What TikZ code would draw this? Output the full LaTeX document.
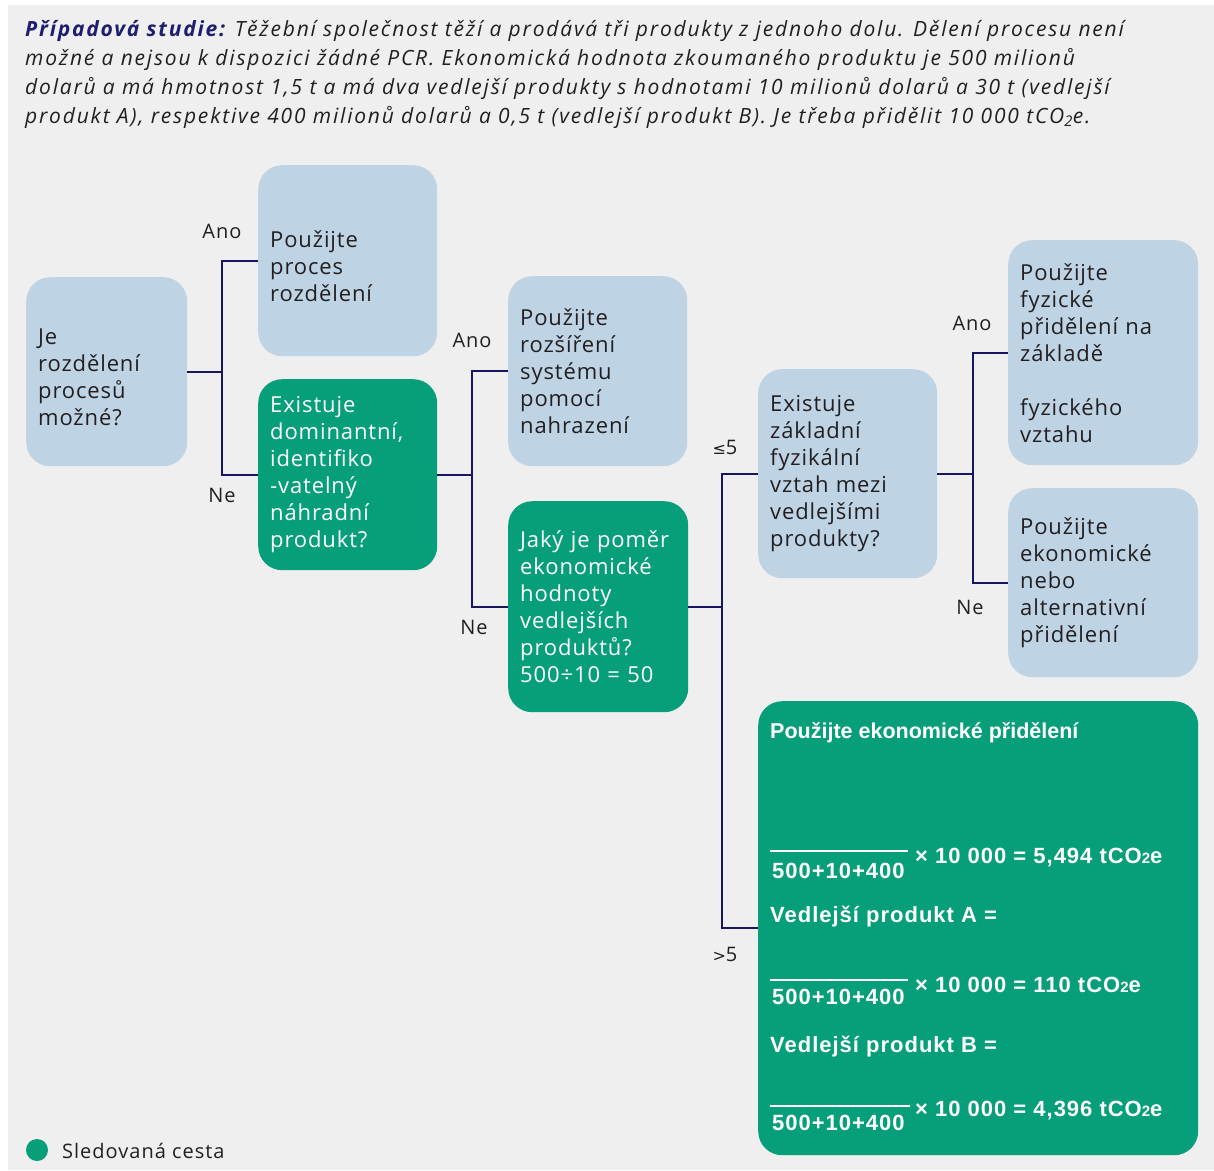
\documentclass[tikz,border=0pt]{standalone}
\usepackage{fontspec}
\setmainfont{Open Sans}
\newfontfamily\hdrfont[LetterSpace=8.6]{Open Sans}
\newfontfamily\boxfont[LetterSpace=4]{Open Sans}
\newfontfamily\lblfont[LetterSpace=5]{Open Sans}
\newfontfamily\arialb{Liberation Sans}
\newfontfamily\arialbs[LetterSpace=4.5]{Liberation Sans}
\newfontfamily\symfont{DejaVu Sans}
\usetikzlibrary{calc}
\definecolor{grn}{RGB}{7,158,122}
\definecolor{lblue}{RGB}{190,211,228}
\definecolor{navy}{RGB}{24,22,96}
\definecolor{bgray}{RGB}{239,239,239}
\definecolor{txt}{RGB}{35,31,32}
\definecolor{hdrnavy}{RGB}{30,30,110}
\tikzset{
  basebox/.style={rounded corners=24pt, inner xsep=12pt, inner ysep=0pt, align=left, anchor=north west,
    font=\boxfont\fontsize{22}{27}\selectfont},
  bluebox/.style={basebox, fill=lblue, text=txt},
  greenbox/.style={basebox, fill=grn, text=white},
  conn/.style={draw=navy, line width=1.9pt},
  lbl/.style={text=txt, font=\lblfont\fontsize{20}{24}\selectfont, inner sep=0pt},
  bigtxt/.style={text=white, font=\arialbs\bfseries\fontsize{22}{24}\selectfont, inner sep=0pt, anchor=west},
  barline/.style={draw=white, line width=1.2pt}
}
\begin{document}
\begin{tikzpicture}[x=1pt,y=-1pt]
\useasboundingbox (0,0) rectangle (1214,1170);
\fill[white] (0,0) rectangle (1214,1170);
\fill[bgray] (8,5) rectangle (1214,1170);

% header
\node[anchor=north west, inner sep=0pt, align=left, text=txt,
  font=\hdrfont\itshape\fontsize{21}{29}\selectfont] (hdr) at (25,20)
  {{\color{hdrnavy}\bfseries Případová studie:} Těžební společnost těží a prodává tři produkty z jednoho dolu. Dělení procesu není\\
   možné a nejsou k dispozici žádné PCR. Ekonomická hodnota zkoumaného produktu je 500 milionů\\
   dolarů a má hmotnost 1,5 t a má dva vedlejší produkty s hodnotami 10 milionů dolarů a 30 t (vedlejší\\
   produkt A), respektive 400 milionů dolarů a 0,5 t (vedlejší produkt B). Je třeba přidělit 10 000 tCO\textsubscript{2}e.};

% boxes
\node[bluebox, minimum width=161pt, minimum height=189pt, text width=137pt] (b1) at (26,277)
  {\\[0pt]Je\\rozdělení\\procesů\\možné?};
\node[bluebox, minimum width=179pt, minimum height=191pt, text width=155pt] (b2) at (258,165)
  {\\[0pt]Použijte\\proces\\rozdělení};
\node[greenbox, minimum width=179pt, minimum height=191pt, text width=155pt] (b3) at (258,379)
  {Existuje\\dominantní,\\identifiko\\-vatelný\\náhradní\\produkt?};
\node[bluebox, minimum width=179pt, minimum height=190pt, text width=155pt] (b4) at (508,276)
  {Použijte\\rozšíření\\systému\\pomocí\\nahrazení};
\node[greenbox, minimum width=180pt, minimum height=211pt, text width=156pt] (b5) at (508,501)
  {Jaký je poměr\\ekonomické\\hodnoty\\vedlejších\\produktů?\\500÷10 = 50};
\node[bluebox, minimum width=179pt, minimum height=209pt, text width=155pt] (b6) at (758,369)
  {Existuje\\základní\\fyzikální\\vztah mezi\\vedlejšími\\produkty?};
\node[bluebox, minimum width=190pt, minimum height=225pt, text width=166pt] (b7) at (1008,240)
  {Použijte\\fyzické\\přidělení na\\základě\\[27pt]fyzického\\vztahu};
\node[bluebox, minimum width=190pt, minimum height=189pt, text width=166pt] (b8) at (1008,488)
  {Použijte\\ekonomické\\nebo\\alternativní\\přidělení};
\node[greenbox, minimum width=440pt, minimum height=454pt] (b9) at (758,701) {};

% big box contents
\node[bigtxt, font=\arialb\bfseries\fontsize{21.5}{24}\selectfont] (t1) at (770,733) {Použijte ekonomické přidělení};
\node[bigtxt] (d1) at (772,871) {500+10+400};
\draw[barline] (770,851) -- (908,851);
\node[bigtxt] (r1) at (915,858) {× 10 000 = 5,494 tCO{\fontsize{15}{15}\selectfont 2}e};
\node[bigtxt] (t2) at (770,917) {Vedlejší produkt A =};
\node[bigtxt] (d2) at (772,997) {500+10+400};
\draw[barline] (770,980) -- (908,980);
\node[bigtxt] (r2) at (915,985) {× 10 000 = 110 tCO{\fontsize{15}{15}\selectfont 2}e};
\node[bigtxt] (t3) at (770,1047) {Vedlejší produkt B =};
\node[bigtxt] (d3) at (772,1123) {500+10+400};
\draw[barline] (770,1106) -- (910,1106);
\node[bigtxt] (r3) at (915,1111) {× 10 000 = 4,396 tCO{\fontsize{15}{15}\selectfont 2}e};

% connectors
\coordinate (j1) at ($(b1.east)+(35,0)$);
\coordinate (j2) at ($(b3.east)+(35,0)$);
\coordinate (j3) at ($(b5.east)+(34,0)$);
\coordinate (j4) at ($(b6.east)+(36,0)$);
\draw[conn] (b1.east) -- (j1);
\draw[conn] (b2.west) -| (j1) |- (b3.west);
\draw[conn] (b3.east) -- (j2);
\draw[conn] (b4.west) -| (j2) |- (b5.west);
\draw[conn] (b5.east) -- (j3);
\draw[conn] (b6.west) -| (j3) |- (b9.west);
\draw[conn] (b6.east) -- (j4);
\draw[conn] (b7.west) -| (j4) |- (b8.west);

% labels
\node[lbl] (l1) at (222,231) {Ano};
\node[lbl] (l2) at (222,495) {Ne};
\node[lbl] (l3) at (472,340) {Ano};
\node[lbl] (l4) at (474,627) {Ne};
\node[lbl] (l5) at (725,447) {{\symfont\fontsize{16}{16}\selectfont ≤}5};
\node[lbl] (l6) at (725,954) {{\symfont\fontsize{16}{16}\selectfont >}5};
\node[lbl] (l7) at (972,323) {Ano};
\node[lbl] (l8) at (970,607) {Ne};

% legend
\fill[grn] (37,1150) circle (11);
\node[lbl, anchor=west] (leg) at (62,1151) {Sledovaná cesta};
\end{tikzpicture}
\end{document}
